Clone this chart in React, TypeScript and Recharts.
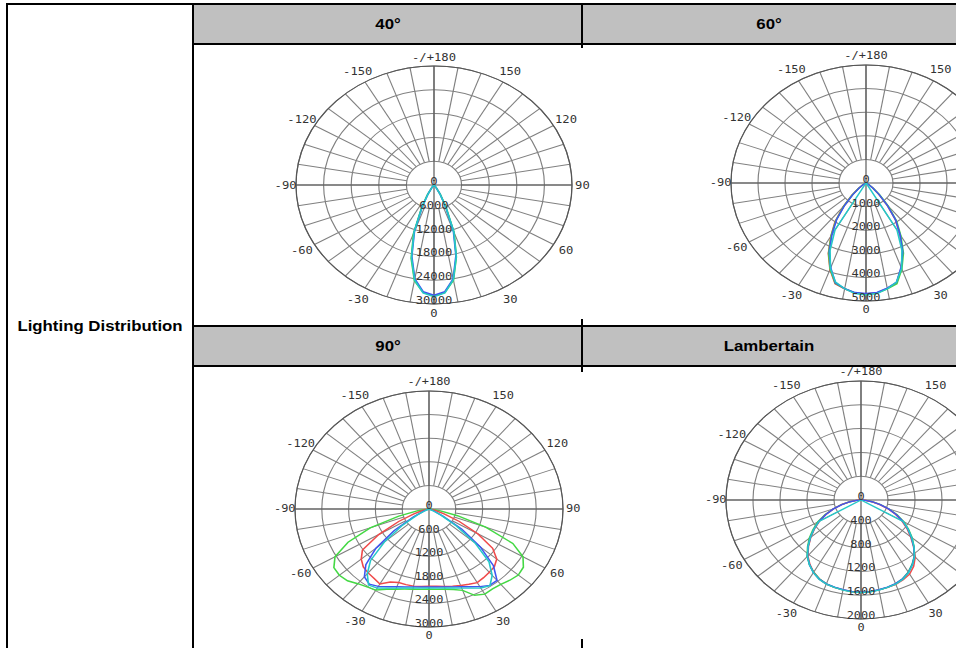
import React from 'react';
import { RadarChart, Radar, PolarGrid, PolarAngleAxis, PolarRadiusAxis } from 'recharts';

// ---------- data ----------
const ANGLES = [-90, -85, -80, -75, -70, -65, -60, -55, -50, -45, -40, -35, -30, -25, -20, -15, -10, -5, 0, 5, 10, 15, 20, 25, 30, 35, 40, 45, 50, 55, 60, 65, 70, 75, 80, 85, 90];

const GREEN_40 = [0, 0, 0, 0, 0, 0, 0, 0, 0, 150, 400, 1000, 3000, 6500, 13000, 19200, 24500, 27200, 28000, 27200, 24400, 18800, 12800, 6200, 2800, 900, 350, 120, 0, 0, 0, 0, 0, 0, 0, 0, 0];
const BLUE_40 = [0, 0, 0, 0, 0, 0, 0, 0, 0, 100, 300, 800, 2500, 6000, 12400, 18600, 24000, 27000, 27800, 27000, 24000, 18400, 12300, 5800, 2500, 800, 300, 100, 0, 0, 0, 0, 0, 0, 0, 0, 0];
const CYAN_40 = [0, 0, 0, 0, 0, 0, 0, 0, 0, 0, 200, 700, 2600, 6200, 12700, 18900, 24300, 27300, 28200, 27300, 24200, 18700, 12600, 6000, 2600, 700, 200, 0, 0, 0, 0, 0, 0, 0, 0, 0, 0];

const RED_60 = [0, 0, 0, 0, 0, 0, 60, 170, 380, 750, 1320, 2000, 2600, 3300, 3900, 4420, 4560, 4680, 4700, 4670, 4530, 4380, 3820, 3200, 2500, 1900, 1200, 650, 320, 130, 40, 0, 0, 0, 0, 0, 0];
const GREEN_60 = [0, 0, 0, 0, 0, 0, 50, 150, 350, 720, 1280, 1950, 2580, 3280, 3880, 4400, 4550, 4670, 4720, 4680, 4560, 4420, 3880, 3280, 2580, 1980, 1280, 720, 360, 150, 50, 0, 0, 0, 0, 0, 0];
const BLUE_60 = [0, 0, 0, 0, 0, 0, 40, 130, 320, 680, 1220, 1900, 2520, 3220, 3820, 4380, 4540, 4660, 4680, 4650, 4520, 4360, 3800, 3220, 2520, 1920, 1220, 680, 330, 130, 40, 0, 0, 0, 0, 0, 0];
const CYAN_60 = [0, 0, 0, 0, 0, 0, 0, 0, 0, 0, 0, 0, 2300, 3150, 3850, 4350, 4550, 4700, 4750, 4700, 4550, 4350, 3850, 3150, 2300, 0, 0, 0, 0, 0, 0, 0, 0, 0, 0, 0, 0];

const GREEN_90 = [0, 60, 250, 700, 1400, 2000, 2430, 2600, 2620, 2580, 2480, 2420, 2380, 2250, 2170, 2110, 2070, 2050, 2040, 2050, 2070, 2120, 2200, 2420, 2500, 2480, 2500, 2560, 2610, 2580, 2430, 2070, 1350, 660, 240, 60, 0];
const RED_90 = [0, 0, 50, 150, 360, 750, 1300, 1820, 1980, 2080, 2120, 2150, 2200, 2050, 1990, 1990, 1990, 1975, 1965, 1970, 2000, 2030, 2070, 2110, 2160, 2130, 2100, 2070, 1980, 1740, 1260, 750, 360, 150, 50, 0, 0];
const BLUE_90 = [0, 0, 0, 0, 30, 130, 400, 950, 1550, 2000, 2250, 2330, 2270, 2180, 2100, 2050, 2010, 1990, 1980, 1990, 2010, 2050, 2100, 2180, 2280, 2370, 2370, 2040, 1500, 900, 360, 120, 30, 0, 0, 0, 0];
const CYAN_90 = [0, 0, 0, 0, 0, 90, 300, 750, 1300, 1850, 2150, 2360, 2320, 2220, 2140, 2080, 2040, 2020, 2010, 2020, 2040, 2080, 2140, 2220, 2320, 2380, 2200, 1900, 1350, 750, 300, 90, 0, 0, 0, 0, 0];

const GREEN_L = [0, 70, 170, 300, 440, 590, 740, 870, 1000, 1120, 1240, 1330, 1400, 1460, 1500, 1520, 1535, 1548, 1552, 1548, 1535, 1520, 1500, 1460, 1400, 1320, 1230, 1110, 990, 860, 730, 590, 440, 300, 170, 70, 0];
const RED_L = [0, 60, 160, 290, 430, 570, 710, 840, 970, 1100, 1225, 1320, 1405, 1465, 1505, 1520, 1535, 1545, 1550, 1545, 1535, 1520, 1510, 1480, 1440, 1360, 1250, 1100, 960, 830, 700, 560, 420, 280, 160, 60, 0];
const BLUE_L = [0, 65, 165, 295, 435, 575, 720, 850, 980, 1110, 1235, 1330, 1410, 1465, 1500, 1515, 1530, 1542, 1548, 1545, 1532, 1515, 1495, 1460, 1405, 1325, 1230, 1105, 975, 845, 715, 575, 435, 295, 165, 65, 0];
const CYAN_L = [0, 0, 0, 0, 0, 0, 720, 850, 980, 1110, 1235, 1330, 1410, 1470, 1505, 1522, 1538, 1550, 1555, 1550, 1538, 1522, 1505, 1470, 1410, 1330, 1235, 1110, 980, 850, 720, 0, 0, 0, 0, 0, 0];

const TITLES = ['40°', '60°', '90°', 'Lambertain'];
const MAXES = [30000, 5000, 3000, 2000];
const ROW_LABEL = 'Lighting Distribution';
// angle labels that lie beyond the right edge of the page in the two right-hand diagrams
const HIDDEN_LABELS = [[], [120, 90, 60], [], [120, 90, 60]];

const C_GREEN = '#44d844';
const C_RED = '#f04a4a';
const C_BLUE = '#3f55f0';
const C_CYAN = '#25c8c8';

type Series = { key: string; color: string; values: number[] };

const PANEL_SERIES: Series[][] = [
  [
    { key: 'g', color: C_GREEN, values: GREEN_40 },
    { key: 'b', color: C_BLUE, values: BLUE_40 },
    { key: 'c', color: C_CYAN, values: CYAN_40 },
  ],
  [
    { key: 'r', color: C_RED, values: RED_60 },
    { key: 'g', color: C_GREEN, values: GREEN_60 },
    { key: 'b', color: C_BLUE, values: BLUE_60 },
    { key: 'c', color: C_CYAN, values: CYAN_60 },
  ],
  [
    { key: 'g', color: C_GREEN, values: GREEN_90 },
    { key: 'r', color: C_RED, values: RED_90 },
    { key: 'b', color: C_BLUE, values: BLUE_90 },
    { key: 'c', color: C_CYAN, values: CYAN_90 },
  ],
  [
    { key: 'g', color: C_GREEN, values: GREEN_L },
    { key: 'r', color: C_RED, values: RED_L },
    { key: 'b', color: C_BLUE, values: BLUE_L },
    { key: 'c', color: C_CYAN, values: CYAN_L },
  ],
];

// ---------- layout ----------
const PLACES = [
  { cx: 434, cy: 185, rx: 138, ry: 119 },
  { cx: 866, cy: 183, rx: 135, ry: 118 },
  { cx: 429, cy: 509, rx: 134, ry: 118 },
  { cx: 861, cy: 500, rx: 135, ry: 119 },
];
const HEADER_POS = [
  { x: 388, y: 24 },
  { x: 769, y: 24 },
  { x: 388, y: 346 },
  { x: 769, y: 346 },
];

const TICK_FONT = '"DejaVu Sans Mono", monospace';
const HEAD_FONT = '"Liberation Sans", Arial, sans-serif';
const TICK_SIZE = 10.5;

const makeAngleTick = (hidden: number[]) => (props: any) => {
  const { x, y, payload } = props;
  const v = payload.value;
  if (v === 180 || Math.round(v) % 30 !== 0 || hidden.indexOf(v) >= 0) return null;
  const label = v === -180 ? '-/+180' : String(v);
  const rad = (payload.coordinate * Math.PI) / 180;
  const extra = 4 * Math.abs(Math.sin(2 * rad));
  return (
    <text
      x={x + Math.cos(rad) * extra}
      y={y - Math.sin(rad) * extra}
      textAnchor="middle"
      dominantBaseline="central"
      fontFamily={TICK_FONT}
      fontSize={TICK_SIZE}
      fill="#333"
    >
      {label}
    </text>
  );
};

const RadiusTick = (props: any) => {
  const { x, y, payload } = props;
  return (
    <text x={x} y={y} textAnchor="middle" fontFamily={TICK_FONT} fontSize={TICK_SIZE} fill="#333">
      {String(payload.value)}
    </text>
  );
};

function Polar({ idx }: { idx: number }) {
  const place = PLACES[idx];
  const series = PANEL_SERIES[idx];
  const max = MAXES[idx];
  const R = place.ry;
  const W = 2 * (R + 40);
  const H = 2 * (R + 22);
  const sx = place.rx / place.ry;
  const rows = ANGLES.map((a, i) => {
    const row: any = { a };
    series.forEach((s) => {
      row[s.key] = s.values[i];
    });
    return row;
  });
  const ring = R / 5;
  const spokes: number[] = [];
  for (let d = 0; d < 360; d += 10) spokes.push(d);
  const rings = [1, 2, 3, 4, 5].map((k) => k * ring);
  const common = {
    width: W,
    height: H,
    data: rows,
    cx: W / 2,
    cy: H / 2,
    outerRadius: R,
    startAngle: -270,
    endAngle: 90,
    margin: { top: 0, right: 0, bottom: 0, left: 0 },
  };
  const AngleTick = makeAngleTick(HIDDEN_LABELS[idx]);
  return (
    <div
      style={{
        position: 'absolute',
        left: place.cx - W / 2,
        top: place.cy - H / 2,
        width: W,
        height: H,
        transform: `scaleX(${sx})`,
        transformOrigin: '50% 50%',
      }}
    >
      <div style={{ position: 'absolute', left: 0, top: 0 }}>
        <RadarChart {...common} innerRadius={ring}>
          <PolarGrid gridType="circle" polarAngles={spokes} polarRadius={rings} stroke="#808080" strokeWidth={1} />
          <PolarAngleAxis dataKey="a" type="number" domain={[-180, 180]} tick={false} tickLine={false} axisLine={false} />
          <PolarRadiusAxis domain={[0, max]} tick={false} axisLine={false} tickLine={false} />
        </RadarChart>
      </div>
      <div style={{ position: 'absolute', left: 0, top: 0 }}>
        <RadarChart {...common} innerRadius={0}>
          <PolarGrid gridType="circle" polarAngles={[0, 90, 180, 270]} polarRadius={[R]} stroke="#555" strokeWidth={1} />
          <PolarAngleAxis
            dataKey="a"
            type="number"
            domain={[-180, 180]}
            tickCount={13}
            tick={AngleTick}
            tickLine={false}
            axisLine={false}
            tickSize={9}
          />
          <PolarRadiusAxis
            angle={-90}
            type="number"
            domain={[0, max]}
            tickCount={6}
            tick={RadiusTick}
            axisLine={false}
            tickLine={false}
          />
          {series.map((s) => (
            <Radar
              key={s.key}
              dataKey={s.key}
              stroke={s.color}
              strokeWidth={1.4}
              fill="none"
              fillOpacity={0}
              dot={false}
              isAnimationActive={false}
            />
          ))}
        </RadarChart>
      </div>
    </div>
  );
}

const line = (left: number, top: number, width: number, height: number, key: string) => (
  <div key={key} style={{ position: 'absolute', left, top, width, height, background: '#000' }} />
);

export default function App() {
  return (
    <div
      style={{
        position: 'absolute',
        left: 0,
        top: 0,
        width: 956,
        height: 648,
        overflow: 'hidden',
        background: '#fff',
        fontFamily: HEAD_FONT,
      }}
    >
      {/* header backgrounds */}
      <div style={{ position: 'absolute', left: 194, top: 5, width: 762, height: 38, background: '#c0c0c0' }} />
      <div style={{ position: 'absolute', left: 194, top: 327, width: 762, height: 38, background: '#c0c0c0' }} />
      {/* table lines */}
      {line(6, 3, 950, 2, 'top')}
      {line(6, 3, 2, 645, 'left')}
      {line(192, 3, 2, 645, 'col')}
      {line(194, 43, 762, 2, 'h1b')}
      {line(581, 3, 2, 45, 'd1')}
      {line(194, 325, 762, 2, 'h2t')}
      {line(194, 365, 762, 2, 'h2b')}
      {line(581, 319, 2, 53, 'd2')}
      {line(581, 639, 2, 9, 'd3')}

      {[0, 1, 2, 3].map((i) => (
        <Polar key={i} idx={i} />
      ))}

      {TITLES.map((t, i) => (
        <div
          key={t}
          style={{
            position: 'absolute',
            left: HEADER_POS[i].x - 100,
            top: HEADER_POS[i].y - 10,
            width: 200,
            height: 20,
            lineHeight: '20px',
            textAlign: 'center',
            fontWeight: 'bold',
            fontSize: 15,
            color: '#000',
            transform: 'scaleX(1.12)',
          }}
        >
          {t}
        </div>
      ))}
      <div
        style={{
          position: 'absolute',
          left: 8,
          top: 316,
          width: 184,
          height: 20,
          lineHeight: '20px',
          textAlign: 'center',
          fontWeight: 'bold',
          fontSize: 15,
          color: '#000',
          transform: 'scaleX(1.12)',
        }}
      >
        {ROW_LABEL}
      </div>
    </div>
  );
}
